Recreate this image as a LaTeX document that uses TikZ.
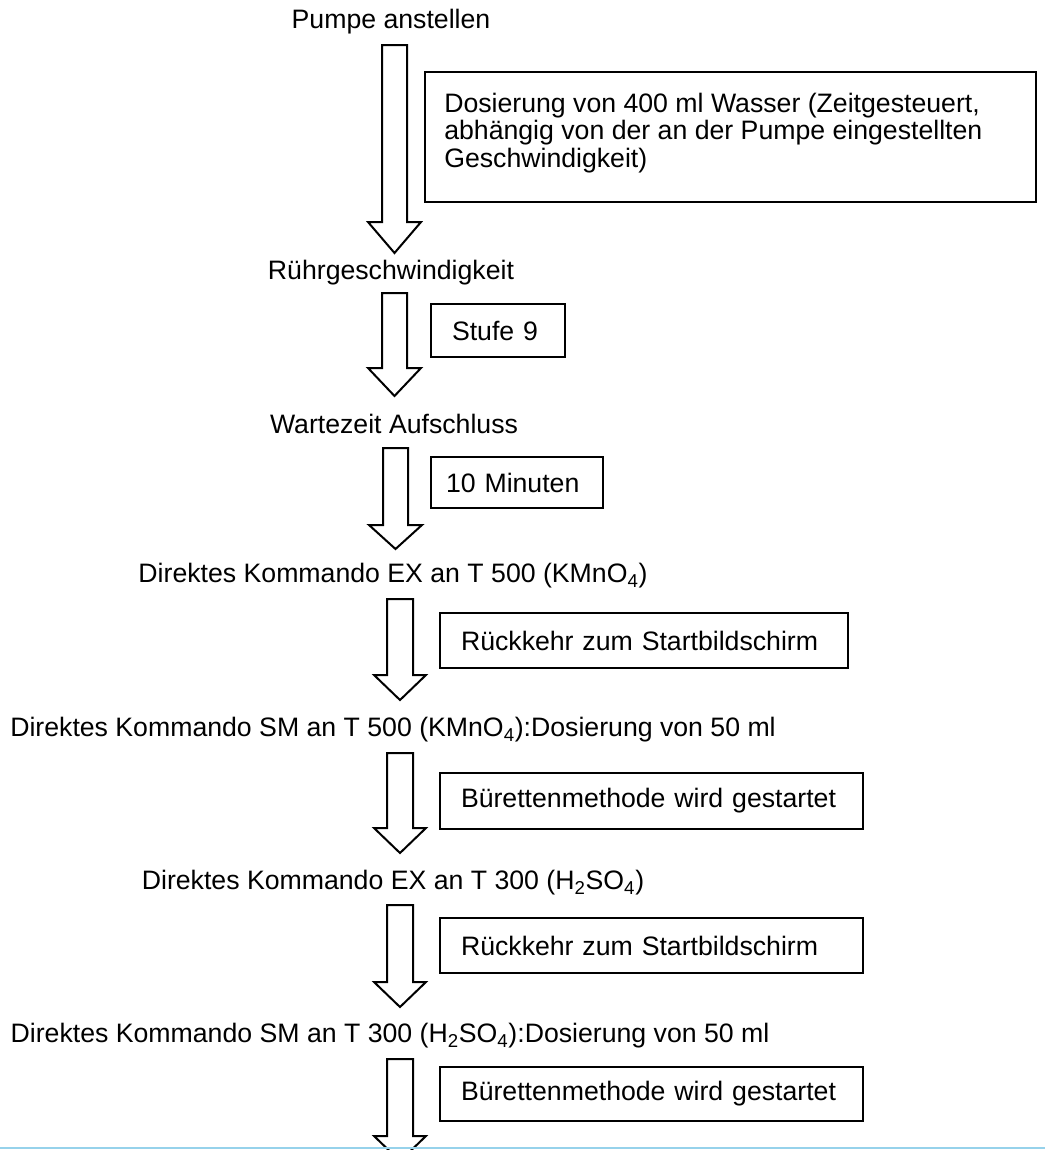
\documentclass[tikz,border=0pt]{standalone}
\usepackage{fontspec}
\setmainfont{Liberation Sans}
\newcommand\blkarrow[6]{%
  \draw[arrowline] ({#1-#5},#2) -- ({#1+#5},#2) -- ({#1+#5},#3) -- ({#1+#6},#3)
    -- (#1,#4) -- ({#1-#6},#3) -- ({#1-#5},#3) -- cycle;}
\begin{document}
\begin{tikzpicture}[x=0.75pt,y=-0.75pt,
  lbl/.style={font=\fontsize{20}{20.5}\selectfont, inner sep=0pt},
  infobox/.style={draw, line width=1.5pt, font=\fontsize{20}{21}\selectfont,
    inner xsep=15.75pt, inner ysep=0pt, align=left, anchor=west},
  arrowline/.style={line width=1.5pt, line join=miter}]
\useasboundingbox (0,0) rectangle (1045,1150);
\clip (0,0) rectangle (1045,1150);

% step labels
\node[lbl] (l1) at (391,22) {Pumpe anstellen};
\node[lbl] (l2) at (391,273) {Rührgeschwindigkeit};
\node[lbl] (l3) at (394,424) {Wartezeit Aufschluss};
\node[lbl] (l4) at (393,576) {Direktes Kommando EX an T 500 (KMnO\textsubscript{4})};
\node[lbl] (l5) at (393,730) {Direktes Kommando SM an T 500 (KMnO\textsubscript{4}):Dosierung von 50 ml};
\node[lbl] (l6) at (393,883) {Direktes Kommando EX an T 300 (H\textsubscript{2}SO\textsubscript{4})};
\node[lbl] (l7) at (390,1036) {Direktes Kommando SM an T 300 (H\textsubscript{2}SO\textsubscript{4}):Dosierung von 50 ml};

% block arrows
\blkarrow{394.5}{45}{222}{253}{12.5}{26.5}
\blkarrow{394.5}{293}{368}{396}{12.5}{26.5}
\blkarrow{395.5}{448}{525}{549}{12.5}{26.5}
\blkarrow{400}{599}{675}{700}{13}{26}
\blkarrow{400}{753}{828}{853}{13}{26}
\blkarrow{400}{905}{982}{1007}{13}{26}
\blkarrow{400}{1059}{1136}{1161}{13}{26}

% info boxes
\node[infobox, minimum width=458.25pt, minimum height=97.5pt] (b1) at (424,137) {};
\node[lbl, align=left, anchor=west] (b1t) at (444,133)
  {Dosierung von 400 ml Wasser (Zeitgesteuert,\\abhängig von der an der Pumpe eingestellten\\Geschwindigkeit)};
\node[infobox, text width=69pt, minimum height=39.75pt] (b2) at (430,330.5) {Stufe 9};
\node[infobox, inner xsep=11.25pt, text width=106.5pt, minimum height=38.25pt] (b3) at (430,482.5) {\mbox{10 Minuten}};
\node[infobox, text width=274.5pt, minimum height=41.25pt] (b4) at (439,640.5) {Rückkehr zum Startbildschirm};
\node[infobox, text width=285.75pt, minimum height=42pt] (b5) at (439,801) {Bürettenmethode wird gestartet};
\node[infobox, text width=285.75pt, minimum height=41.25pt] (b6) at (439,945.5) {Rückkehr zum Startbildschirm};
\node[infobox, text width=285.75pt, minimum height=40.5pt] (b7) at (439,1094) {Bürettenmethode wird gestartet};

% bottom rule
\draw[line width=1.5pt, color={rgb,255:red,150;green,210;blue,235}] (0,1148) -- (1045,1148);
\end{tikzpicture}
\end{document}
